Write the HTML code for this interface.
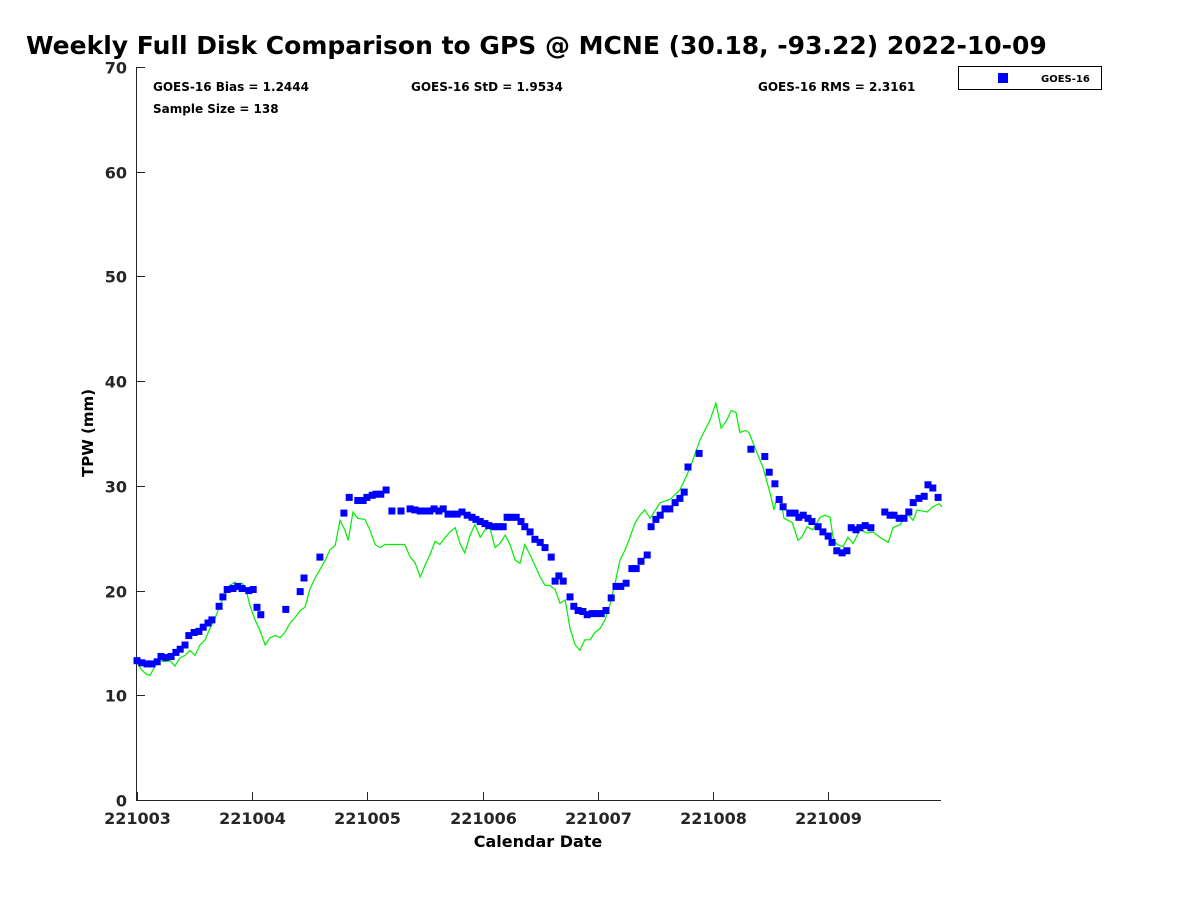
<!DOCTYPE html>
<html><head><meta charset="utf-8"><style>
body{margin:0;background:#fff;}
svg{display:block;font-family:"DejaVu Sans","Liberation Sans",sans-serif;font-weight:bold;}
</style></head><body>
<svg id="chart" width="1200" height="900" viewBox="0 0 1200 900">
<text x="26" y="54" font-size="25" fill="#000">Weekly Full Disk Comparison to GPS @ MCNE (30.18, -93.22) 2022-10-09</text>
<g id="axes"></g>
<g id="gps"></g>
<g id="goes"></g>
<text x="153" y="91" font-size="12">GOES-16 Bias = 1.2444</text>
<text x="153" y="113" font-size="12">Sample Size = 138</text>
<text x="411" y="91" font-size="12">GOES-16 StD = 1.9534</text>
<text x="758" y="91" font-size="12">GOES-16 RMS = 2.3161</text>
<g>
<rect x="958.5" y="66.5" width="143" height="23" fill="#fff" stroke="#000"/>
<rect x="998" y="73" width="10" height="10" fill="#0000ff"/>
<text x="1041" y="82" font-size="10">GOES-16</text>
</g>
<text x="93" y="433" font-size="15" text-anchor="middle" transform="rotate(-90 93 433)">TPW (mm)</text>
<text x="538" y="847" font-size="16" text-anchor="middle">Calendar Date</text>
</svg>
<script>
const xTickLabels=["221003","221004","221005","221006","221007","221008","221009"];
const yTicks=[0,10,20,30,40,50,60,70];
const goesHours=[0,1.0,2.1,3.1,4.2,5.0,6.0,7.1,8.1,9.0,10.0,10.8,11.9,12.9,13.8,14.8,15.6,17.1,17.9,18.8,20.0,21.0,21.9,23.3,24.2,25.0,25.8,31.0,34.0,34.8,38.1,43.1,44.2,46.0,47.1,47.9,49.0,49.8,50.8,51.9,53.1,55.0,56.9,57.9,59.0,60.0,61.0,61.9,62.9,63.8,64.8,65.6,66.7,67.7,68.8,69.8,70.6,71.5,72.5,73.3,74.4,75.4,76.3,77.1,77.9,79.0,80.0,80.8,81.9,82.9,84.0,85.0,86.3,87.1,87.9,88.8,90.2,91.0,91.9,92.9,93.8,94.8,95.8,96.7,97.7,98.8,99.8,100.8,101.9,103.1,104.0,105.0,106.3,107.1,108.1,109.0,110.0,111.0,112.1,113.1,114.0,114.8,117.1,127.9,130.8,131.7,132.9,133.8,134.6,136.0,137.1,137.9,138.8,139.8,140.6,141.9,142.9,144.0,144.8,145.8,146.9,147.9,148.8,149.8,150.6,151.7,152.9,155.8,156.9,157.7,158.8,159.8,160.8,161.7,162.9,164.0,164.8,165.8,166.9];
const goesValues=[13.3,13.1,13.0,13.0,13.2,13.7,13.6,13.7,14.1,14.4,14.8,15.7,16.0,16.1,16.5,16.9,17.2,18.5,19.4,20.1,20.2,20.4,20.2,20.0,20.1,18.4,17.7,18.2,19.9,21.2,23.2,27.4,28.9,28.6,28.6,28.9,29.1,29.2,29.2,29.6,27.6,27.6,27.8,27.7,27.6,27.6,27.6,27.8,27.6,27.8,27.3,27.3,27.3,27.5,27.2,27.0,26.8,26.6,26.4,26.2,26.1,26.1,26.1,27.0,27.0,27.0,26.6,26.1,25.6,24.9,24.6,24.1,23.2,20.9,21.4,20.9,19.4,18.5,18.1,18.0,17.7,17.8,17.8,17.8,18.1,19.3,20.4,20.4,20.7,22.1,22.1,22.8,23.4,26.1,26.8,27.2,27.8,27.8,28.4,28.8,29.4,31.8,33.1,33.5,32.8,31.3,30.2,28.7,28.0,27.4,27.4,27.0,27.2,26.9,26.6,26.1,25.6,25.2,24.6,23.8,23.6,23.8,26.0,25.8,26.0,26.2,26.0,27.5,27.2,27.2,26.9,26.9,27.5,28.4,28.8,29.0,30.1,29.8,28.9];
const gpsHours=[0,1,2,2.7,3.8,4.8,5.8,6.9,7.9,9,10,11,12.1,13.1,14.2,15.2,16.3,17.3,18.3,19.4,20.4,21,21.9,22.7,23.5,24.6,25.6,26.7,27.7,28.8,29.8,30.8,31.9,32.9,34,35,36,37.1,38.1,39.2,40.2,41.3,42.3,43.3,44,45,46,47.5,48.5,49.6,50.6,51.7,53.8,55.8,56.9,57.9,59,60,61,62.1,63.1,64.2,65.2,66.3,67.3,68.3,69.4,70.4,71.5,72.5,73.5,74.6,75.6,76.7,77.7,78.8,79.8,80.8,81.9,82.9,84,85,86,87.1,88.1,89.2,90.2,91.3,92.3,93.3,94.4,95.4,96.5,97.5,98.5,99.6,100.6,101.7,102.7,103.8,104.8,105.8,106.9,109,111,113.1,115.2,117.3,119.4,120.6,121.7,122.9,123.8,124.8,125.6,126.7,127.5,129.2,130.4,131.9,132.7,133.3,134.2,134.8,136.5,137.7,138.5,139.6,140.8,141.7,142.3,143.3,144.4,145,145.8,147.1,148.1,149.2,150.6,152.1,153.3,154.8,156.5,157.5,159,160.4,161.7,162.5,164.6,165.8,167.1,167.7];
const gpsValues=[13.1,12.4,12.0,11.9,12.8,13.3,13.2,13.3,12.8,13.6,13.8,14.3,13.8,14.8,15.3,16.4,17.4,18.6,19.6,20.5,20.8,20.5,20.7,20.1,18.6,17.2,16.2,14.8,15.5,15.7,15.5,16.0,16.9,17.4,18.1,18.4,20.1,21.2,22.0,22.9,23.9,24.3,26.7,25.8,24.8,27.5,26.9,26.8,25.8,24.4,24.1,24.4,24.4,24.4,23.2,22.7,21.3,22.4,23.4,24.7,24.4,25.1,25.6,26.0,24.5,23.6,25.3,26.3,25.1,25.8,26.0,24.1,24.5,25.3,24.4,22.9,22.6,24.4,23.4,22.4,21.3,20.5,20.5,20.1,18.8,19.1,16.4,14.8,14.3,15.3,15.3,16.0,16.4,17.2,18.6,20.7,22.9,23.9,25.1,26.5,27.2,27.7,26.9,28.4,28.7,29.6,31.7,34.4,36.3,37.9,35.5,36.3,37.2,37.0,35.1,35.3,35.1,33.1,31.8,29.3,27.7,28.9,28.4,26.9,26.5,24.8,25.1,26.1,25.8,26.5,27.0,27.2,27.0,25.1,24.4,24.2,25.1,24.5,25.8,25.5,25.6,25.1,24.6,26.0,26.3,27.4,26.7,27.7,27.5,28.0,28.3,28.0];

const NS="http://www.w3.org/2000/svg";
const L=137,R=941,T=67,B=800,PXH=4.8;
const xS=h=>L+h*PXH;
const yS=v=>B-v*(B-T)/70;
function mk(tag,attrs,parent){const e=document.createElementNS(NS,tag);for(const k in attrs)e.setAttribute(k,attrs[k]);parent.appendChild(e);return e;}
const axes=document.getElementById('axes');
let e=mk('line',{x1:136.5,y1:T,x2:136.5,y2:B+0.5,stroke:'#262626','stroke-width':1},axes);


e=mk('line',{x1:136,y1:B+0.5,x2:R,y2:B+0.5,stroke:'#262626','stroke-width':1},axes);


yTicks.forEach(v=>{const y=Math.round(yS(v))+0.5;
 const t=mk('line',{x1:137,y1:y,x2:145,y2:y,stroke:'#262626'},axes);
 
 
 const tx=mk('text',{x:127,y:y+6,'font-size':16,'text-anchor':'end',fill:'#262626'},axes);
 tx.textContent=v;
 
 
});
xTickLabels.forEach((lab,i)=>{const x=Math.round(xS(i*24))+0.5;
 const t=mk('line',{x1:x,y1:B,x2:x,y2:B-8,stroke:'#262626'},axes);
 
 
 const tx=mk('text',{x:x,y:824,'font-size':16,'text-anchor':'middle',fill:'#262626'},axes);
 tx.textContent=lab;
 
 
});
const gps=document.getElementById('gps');
const pl=mk('polyline',{points:gpsHours.map((h,i)=>xS(h).toFixed(1)+','+yS(gpsValues[i]).toFixed(1)).join(' '),fill:'none',stroke:'#00ee00','stroke-width':1.2},gps);


const goes=document.getElementById('goes');
goesHours.forEach((h,i)=>{
 const r=mk('rect',{x:(xS(h)-3.5).toFixed(1),y:(yS(goesValues[i])-3.5).toFixed(1),width:7,height:7,fill:'#0000ff'},goes);
 
 
});
</script>
</body></html>
